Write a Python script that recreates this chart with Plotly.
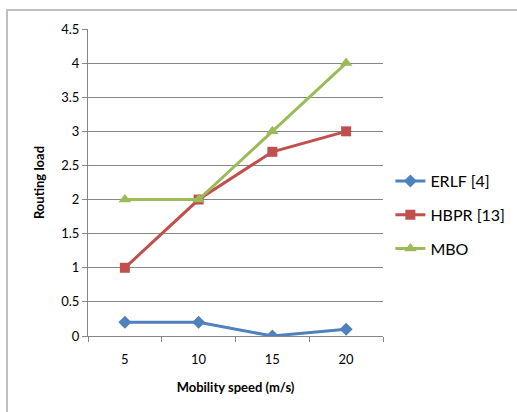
import plotly.graph_objects as go

categories = ["5", "10", "15", "20"]
erlf = [0.2, 0.2, 0.0, 0.1]
hbpr = [1.0, 2.0, 2.7, 3.0]
mbo = [2.0, 2.0, 3.0, 4.0]
y_ticks = [0, 0.5, 1, 1.5, 2, 2.5, 3, 3.5, 4, 4.5]
y_tick_text = ["0", "0.5", "1", "1.5", "2", "2.5", "3", "3.5", "4", "4.5"]

FONT = "Lato, Open Sans, sans-serif"

fig = go.Figure()
fig.add_trace(go.Scatter(x=categories, y=erlf, name="ERLF [4]", mode="lines+markers",
                         legendgroup="a",
                         line=dict(color="#4F81BD", width=3),
                         marker=dict(symbol="diamond", size=10, color="#4F81BD")))
fig.add_trace(go.Scatter(x=categories, y=hbpr, name="HBPR [13]", mode="lines+markers",
                         legendgroup="b",
                         line=dict(color="#C0504D", width=3),
                         marker=dict(symbol="square", size=10, color="#C0504D")))
fig.add_trace(go.Scatter(x=categories, y=mbo, name="MBO", mode="lines+markers",
                         legendgroup="c",
                         line=dict(color="#9BBB59", width=3),
                         marker=dict(symbol="triangle-up", size=11, color="#9BBB59")))

fig.update_layout(
    width=517, height=412,
    margin=dict(l=88, r=134, t=29, b=76, autoexpand=False),
    paper_bgcolor="white", plot_bgcolor="white",
    font=dict(family=FONT, size=13, color="#000000"),
    showlegend=True,
    legend=dict(x=1.025, y=0.394, xanchor="left", yanchor="middle",
                font=dict(size=16, family=FONT), bgcolor="rgba(0,0,0,0)",
                traceorder="grouped", tracegroupgap=10, itemwidth=30),
    xaxis=dict(type="category", range=[-0.5, 3.5], showgrid=False,
               showline=True, linecolor="#868686", linewidth=1,
               ticks="outside", tickson="boundaries", ticklen=5, tickcolor="#868686",
               tickfont=dict(size=13), ticklabelstandoff=11,
               title=dict(text="<b>Mobility speed (m/s)</b>", font=dict(size=13), standoff=17)),
    yaxis=dict(range=[0, 4.5], tickvals=y_ticks, ticktext=y_tick_text,
               showgrid=True, gridcolor="#868686", gridwidth=1,
               showline=True, linecolor="#868686", linewidth=1,
               ticks="outside", ticklen=5, tickcolor="#868686",
               zeroline=False, tickfont=dict(size=13),
               title=dict(text="<b>Routing load</b>", font=dict(size=13), standoff=13)),
)

fig.add_shape(type="rect", xref="paper", yref="paper",
              x0=-0.2746, x1=1.6, y0=-0.3, y1=1.0619,
              line=dict(color="#BFBFBF", width=2), fillcolor="rgba(0,0,0,0)", layer="below")

fig.write_html("out.html")
